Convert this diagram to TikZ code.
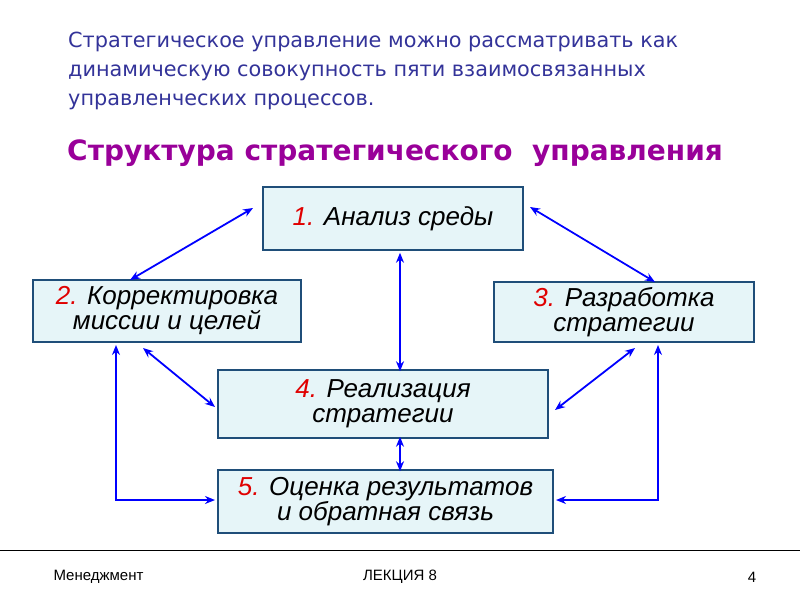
\documentclass[tikz,border=0pt]{standalone}
\usepackage{fontspec}
\setmainfont{DejaVu Sans}
\newfontfamily\arialf{Liberation Sans}
\usetikzlibrary{arrows.meta}
\definecolor{hdr}{HTML}{333399}
\definecolor{ttl}{HTML}{990099}
\definecolor{boxfill}{HTML}{E6F5F8}
\definecolor{boxline}{HTML}{1F4E79}
\definecolor{arr}{HTML}{0000FF}
\definecolor{num}{HTML}{E00000}
\begin{document}
\begin{tikzpicture}[x=1pt,y=-1pt,
 blk/.style={draw=boxline,line width=1.5pt,fill=boxfill,align=center,font=\arialf\itshape\fontsize{26}{25}\selectfont,inner sep=0pt},
 link/.style={draw=arr,line width=1.8pt,{Stealth[length=10pt,width=8pt]}-{Stealth[length=10pt,width=8pt]}}]
\useasboundingbox (0,0) rectangle (800,600);
\node[anchor=west,text=hdr,align=left,font=\fontsize{20.8}{29}\selectfont,inner sep=0pt] (h) at (68,71)
 {Стратегическое управление можно рассматривать как\\динамическую совокупность пяти взаимосвязанных\\управленческих процессов.};
\node[text=ttl,font=\bfseries\fontsize{28}{30}\selectfont] (t) at (395,153) {Структура стратегического\ \ управления};
\node[blk,minimum width=260pt,minimum height=63pt] (b1) at (393,218.5) {\textcolor{num}{1.} Анализ среды};
\node[blk,minimum width=268pt,minimum height=62pt] (b2) at (167,311) {\textcolor{num}{2.} Корректировка\\миссии и целей};
\node[blk,minimum width=260pt,minimum height=60pt] (b3) at (624,312) {\textcolor{num}{3.} Разработка\\стратегии};
\node[blk,minimum width=330pt,minimum height=68pt] (b4) at (383,404) {\textcolor{num}{4.} Реализация\\стратегии};
\node[blk,minimum width=335pt,minimum height=63pt] (b5) at (385.5,501.5) {\textcolor{num}{5.} Оценка результатов\\и обратная связь};
\coordinate (a1) at (253,208); \coordinate (a2) at (130,280);
\draw[link] (a1) -- (a2);
\coordinate (c1) at (530,207); \coordinate (c2) at (655,282);
\draw[link] (c1) -- (c2);
\draw[link] (b1.south) ++(7,2) -- ([xshift=17pt,yshift=-2pt]b4.north);
\coordinate (d1) at (143,348); \coordinate (d2) at (215,407);
\draw[link] (d1) -- (d2);
\coordinate (e1) at (635,348); \coordinate (e2) at (555,410);
\draw[link] (e1) -- (e2);
\draw[link] ([xshift=17pt,yshift=2pt]b4.south) -- ([xshift=14.5pt,yshift=-2pt]b5.north);
\coordinate (l1) at (116,345); \coordinate (l2) at (215,500);
\draw[link] (l1) |- (l2);
\coordinate (r1) at (658,345); \coordinate (r2) at (556,500);
\draw[link] (r1) |- (r2);
\draw[line width=1pt] (0,550) -- (800,550);
\node[anchor=west,font=\arialf\fontsize{15}{16}\selectfont] (f1) at (50,577) {Менеджмент};
\node[font=\arialf\fontsize{15}{16}\selectfont] (f2) at (400,577) {ЛЕКЦИЯ 8};
\node[font=\arialf\fontsize{15}{16}\selectfont] (f3) at (752,577) {4};
\end{tikzpicture}
\end{document}
